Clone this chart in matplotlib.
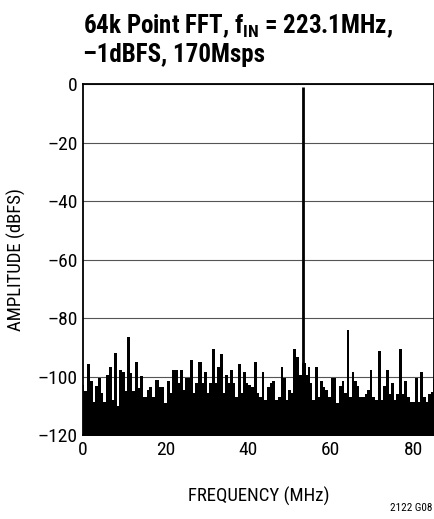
import matplotlib.pyplot as plt

fams = ['Roboto Condensed', 'Liberation Sans Narrow', 'Roboto', 'DejaVu Sans']
plt.rcParams['font.family'] = fams
plt.rcParams['mathtext.fontset'] = 'custom'
plt.rcParams['mathtext.rm'] = 'Roboto Condensed:bold'
plt.rcParams['mathtext.bf'] = 'Roboto Condensed:bold'
plt.rcParams['mathtext.it'] = 'Roboto Condensed:bold'

# spur / noise envelope (MHz, dBFS)
freq_mhz = [0.1, 0.5, 1.45, 2.1, 2.7, 3.3, 4.0, 4.6, 5.2, 6.1, 6.7, 7.3, 7.9, 8.5,
            9.1, 9.8, 10.4, 11.15, 11.6, 12.3, 13.0, 13.6, 14.2, 15.0, 15.8, 16.4,
            17.1, 18.0, 18.7, 19.3, 19.9, 20.7, 21.3, 22.0, 22.7, 23.3, 23.9, 24.5,
            25.1, 25.7, 26.3, 26.9, 27.5, 28.4, 29.0, 29.7, 30.3, 30.9, 31.5, 32.2,
            32.9, 33.5, 34.1, 34.7, 35.3, 36.0, 36.6, 37.2, 37.9, 38.5, 39.1, 39.7,
            40.4, 41.0, 41.8, 42.4, 43.0, 43.6, 44.3, 44.9, 45.5, 46.1, 46.7, 47.6,
            48.2, 48.8, 49.4, 50.0, 50.6, 51.3, 52.0, 52.6, 53.7, 54.2, 54.6, 55.2,
            55.9, 56.5, 57.1, 57.8, 58.4, 59.0, 59.7, 60.4, 61.0, 61.6, 62.3, 63.0,
            63.6, 64.1, 64.8, 65.4, 65.9, 66.6, 67.2, 67.9, 68.5, 69.1, 69.8, 70.4,
            71.0, 71.8, 72.4, 73.0, 73.7, 74.3, 74.9, 75.6, 76.2, 76.8, 77.5, 78.1,
            78.8, 79.4, 80.0, 80.7, 81.4, 82.0, 82.7, 83.3, 83.9, 84.6, 85.0]
level_db = [-103, -105, -95.8, -101.4, -108.6, -103.2, -100.6, -105.7, -108.6, -99.4,
            -96.8, -108, -92.1, -110, -97.8, -98.3, -105, -86.6, -98.7, -105, -95.0,
            -104, -99.8, -106.9, -104.6, -103.5, -106.9, -101.3, -103.5, -103.5,
            -109.2, -101.4, -105.8, -97.7, -97.8, -102.3, -97.8, -104.6, -100.6,
            -100.6, -94.2, -105.7, -102.3, -95.1, -102.3, -98.6, -105.7, -102.3,
            -90.5, -102.3, -96.8, -92.4, -105.7, -99.4, -102.3, -97.8, -102.3,
            -106.9, -95.8, -105.7, -98.6, -102.3, -102.9, -103.5, -95.1, -105.7,
            -106.9, -98.6, -108, -103.5, -102.3, -101.4, -108, -106.9, -96.8,
            -100.6, -108, -104.6, -105.7, -90.6, -93.3, -99.4, -95.5, -99.4, -96.8,
            -102.3, -108, -96.8, -106.9, -101.4, -103.5, -104.6, -106.9, -100.6,
            -100.6, -109.2, -103.3, -101.4, -105.7, -84.0, -106.9, -98.6, -101.4,
            -103.3, -106.9, -106.9, -106, -104.6, -97.8, -106.9, -108, -91.3, -108,
            -103.3, -97.8, -106, -102.3, -108, -106, -90.5, -106, -101.4, -106.9,
            -108.6, -108.6, -100.6, -108.6, -98.6, -106.9, -108.6, -106, -105.4,
            -101.0]

carrier_mhz = 53.2
carrier_db = -1.0
floor_db = -110

fig = plt.figure(figsize=(4.35, 5.19), dpi=100)
ax = fig.add_axes([0.1908, 0.1618, 0.8069, 0.6763])

ax.fill_between(freq_mhz, -125, level_db, step='mid', color='black', lw=0)
ax.axhspan(-125, floor_db, color='black', lw=0)
ax.vlines(carrier_mhz, -125, carrier_db, color='black', lw=2)

ax.set_xlim(0, 85)
ax.set_ylim(-120, 0)
ax.set_xticks([0, 20, 40, 60, 80])
ax.set_yticks([0, -20, -40, -60, -80, -100, -120])
ax.set_yticklabels(['0', '\u201320', '\u201340', '\u201360', '\u201380', '\u2013100', '\u2013120'])
ax.tick_params(length=0, labelsize=14, pad=4)
ax.yaxis.grid(True, color='#555555', lw=0.8)
ax.set_axisbelow(True)
for s in ax.spines.values():
    s.set_linewidth(1.3)
    s.set_color('black')

ax.set_xlabel('FREQUENCY (MHz)', fontsize=13.5, labelpad=20)
ax.set_ylabel('AMPLITUDE (dBFS)', fontsize=13.5, labelpad=8)

fig.text(0.1908, 0.936, r'64k Point FFT, f$_{\mathbf{IN}}$ = 223.1MHz,', fontsize=18,
         fontweight='bold', ha='left', va='baseline')
fig.text(0.1908, 0.881, '\u20131dBFS, 170Msps', fontsize=18,
         fontweight='bold', ha='left', va='baseline')
fig.text(0.995, 0.012, '2122 G08', fontsize=8, ha='right', va='bottom')

fig.savefig('out.png', dpi=100)
